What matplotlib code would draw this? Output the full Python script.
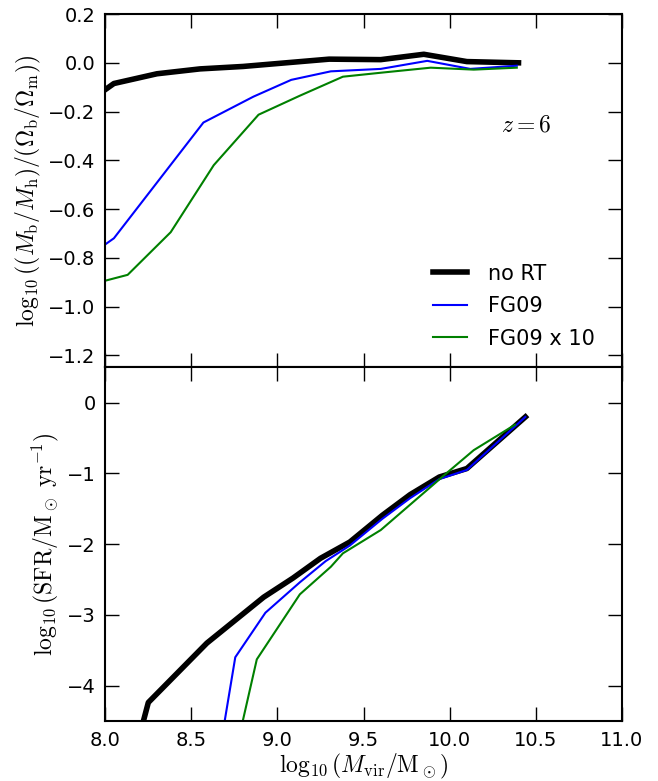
import matplotlib
matplotlib.use("Agg")
import matplotlib.pyplot as plt

plt.rcParams['mathtext.fontset'] = 'cm'
plt.rcParams['font.family'] = ['DejaVu Sans']

# ---- 上段: バリオン割合 ----
x_frac_nort = [8.0, 8.05, 8.3, 8.55, 8.8, 9.05, 9.3, 9.6, 9.85, 10.1, 10.4]
y_frac_nort = [-0.11, -0.085, -0.045, -0.025, -0.015, 0.0, 0.015, 0.013, 0.035, 0.005, 0.0]

x_frac_fg09 = [8.0, 8.05, 8.57, 8.86, 9.08, 9.31, 9.6, 9.87, 10.12, 10.39]
y_frac_fg09 = [-0.745, -0.72, -0.245, -0.139, -0.07, -0.035, -0.025, 0.008, -0.025, -0.012]

x_frac_fg10 = [8.0, 8.13, 8.38, 8.63, 8.89, 9.13, 9.38, 9.61, 9.89, 10.14, 10.39]
y_frac_fg10 = [-0.894, -0.87, -0.695, -0.42, -0.213, -0.135, -0.057, -0.04, -0.02, -0.028, -0.02]

# ---- 下段: 星形成率 ----
x_sfr_nort = [8.2, 8.25, 8.42, 8.59, 8.92, 9.09, 9.25, 9.42, 9.61, 9.77, 9.94, 10.1, 10.44]
y_sfr_nort = [-4.7, -4.24, -3.82, -3.40, -2.75, -2.48, -2.20, -1.97, -1.59, -1.30, -1.05, -0.93, -0.20]

x_sfr_fg09 = [8.68, 8.755, 8.93, 9.13, 9.28, 9.42, 9.61, 9.77, 9.94, 10.1, 10.44]
y_sfr_fg09 = [-4.7, -3.60, -2.97, -2.54, -2.24, -2.02, -1.64, -1.35, -1.08, -0.95, -0.20]

x_sfr_fg10 = [8.78, 8.88, 9.13, 9.31, 9.38, 9.60, 9.89, 9.98, 10.14, 10.38]
y_sfr_fg10 = [-4.7, -3.63, -2.71, -2.32, -2.13, -1.80, -1.19, -1.0, -0.67, -0.31]

labels = ["no RT", "FG09", "FG09 x 10"]
colors = ["black", "blue", "green"]
widths = [4, 1.5, 1.5]

fig, (ax1, ax2) = plt.subplots(2, 1, sharex=True, figsize=(6.58, 7.81), dpi=100)
fig.subplots_adjust(left=0.16, right=0.945, top=0.982, bottom=0.077, hspace=0)

top_data = [(x_frac_nort, y_frac_nort), (x_frac_fg09, y_frac_fg09), (x_frac_fg10, y_frac_fg10)]
bot_data = [(x_sfr_nort, y_sfr_nort), (x_sfr_fg09, y_sfr_fg09), (x_sfr_fg10, y_sfr_fg10)]

for (x, y), lab, c, lw in zip(top_data, labels, colors, widths):
    ax1.plot(x, y, color=c, lw=lw, label=lab)
for (x, y), c, lw in zip(bot_data, colors, widths):
    ax2.plot(x, y, color=c, lw=lw)

def fmt1(v, pos):
    # マイナス記号はユニコードで
    return ('%.1f' % v).replace('-', '\u2212')

ax1.set_xlim(8.0, 11.0)
ax1.set_ylim(-1.25, 0.2)
ax1.set_yticks([0.2, 0.0, -0.2, -0.4, -0.6, -0.8, -1.0, -1.2])
ax2.set_ylim(-4.5, 0.5)
ax2.set_yticks([0, -1, -2, -3, -4])
ax2.set_xticks([8.0, 8.5, 9.0, 9.5, 10.0, 10.5, 11.0])
ax2.xaxis.set_major_formatter(matplotlib.ticker.FuncFormatter(fmt1))
ax1.yaxis.set_major_formatter(matplotlib.ticker.FuncFormatter(fmt1))

for ax in (ax1, ax2):
    ax.tick_params(direction='in', top=True, right=True, length=10, width=1,
                   labelsize=14, pad=7)
    for sp in ax.spines.values():
        sp.set_linewidth(1.5)

ax1.text(10.30, -0.253, r'$z=6$', fontsize=17, va='center')
ax1.legend(loc='lower right', frameon=False, fontsize=15, handlelength=1.6,
           borderaxespad=0.5, labelspacing=0.6, handletextpad=1.05,
           bbox_to_anchor=(0.985, 0.0))

ax1.set_ylabel(r'$\log_{10}((M_{\rm b}/M_{\rm h})/(\Omega_{\rm b}/\Omega_{\rm m}))$', fontsize=17)
ax2.set_ylabel(r'$\log_{10}({\rm SFR}/{\rm M}_\odot\ {\rm yr}^{-1})$', fontsize=17)
ax2.set_xlabel(r'$\log_{10}(M_{\rm vir}/{\rm M}_\odot)$', fontsize=17, labelpad=2)

plt.savefig("out.png", dpi=100)
